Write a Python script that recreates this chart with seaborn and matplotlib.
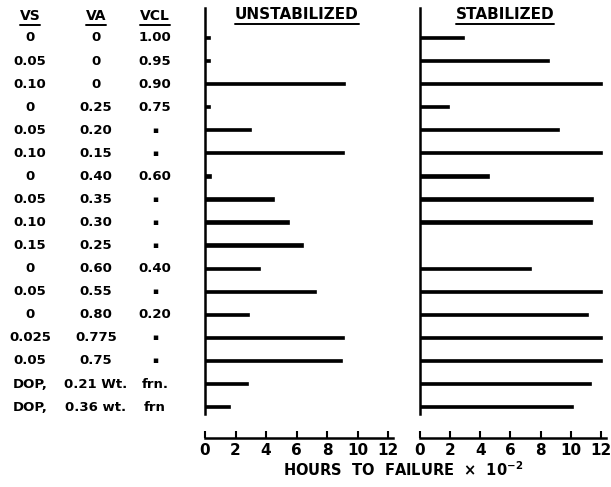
import numpy as np
import pandas as pd
import matplotlib
matplotlib.use("Agg")
import matplotlib.pyplot as plt
from matplotlib.lines import Line2D
from matplotlib.transforms import blended_transform_factory
import seaborn as sns

# ── Data ──────────────────────────────────────────────────────────────────────
D = "\u25aa"  # ditto mark
vs_col  = ["0", "0.05", "0.10", "0", "0.05", "0.10", "0", "0.05", "0.10", "0.15",
           "0", "0.05", "0", "0.025", "0.05", "DOP,", "DOP,"]
va_col  = ["0", "0", "0", "0.25", "0.20", "0.15", "0.40", "0.35", "0.30", "0.25",
           "0.60", "0.55", "0.80", "0.775", "0.75", "0.21 Wt.", "0.36 wt."]
vcl_col = ["1.00", "0.95", "0.90", "0.75", D, D, "0.60", D, D, D,
           "0.40", D, "0.20", D, D, "frn.", "frn"]
unstabilized = [0.3, 0.3, 9.2, 0.3, 3.0, 9.1, 0.4, 4.5, 5.5, 6.4,
                3.6, 7.3, 2.9, 9.1, 9.0, 2.85, 1.65]
stabilized   = [2.95, 8.55, 12.1, 1.9, 9.2, 12.05, 4.6, 11.45, 11.4, 0.0,
                7.35, 12.05, 11.15, 12.05, 12.05, 11.35, 10.15]
x_ticks = [0, 2, 4, 6, 8, 10, 12]

rows = list(range(len(unstabilized)))
df = pd.DataFrame({"row": rows, "unstab": unstabilized, "stab": stabilized})

# ── Style ─────────────────────────────────────────────────────────────────────
sns.set_theme(style="white")
plt.rcParams.update({
    "font.family": ["DejaVu Sans"],
    "font.weight": "bold",
    "text.color": "black",
    "axes.labelcolor": "black",
    "xtick.color": "black",
})

fig = plt.figure(figsize=(6.11, 4.87), dpi=100)
ax1 = fig.add_axes([205 / 611, 73 / 487, 187.6 / 611, 406 / 487])
ax2 = fig.add_axes([420 / 611, 73 / 487, 185.5 / 611, 406 / 487])

for ax, col in [(ax1, "unstab"), (ax2, "stab")]:
    sns.barplot(data=df, x=col, y="row", orient="h", color="black",
                width=0.1, ax=ax, saturation=1,
                edgecolor="black", linewidth=1.2)
    ax.set_xlim(0, 12.3)
    ax.set_ylim(16.3, -1.3)
    ax.set_xlabel("")
    ax.set_ylabel("")
    ax.set_yticks([])
    ax.set_xticks(x_ticks)
    ax.set_xticklabels([str(t) for t in x_ticks], fontsize=9.5, fontweight="bold")
    ax.tick_params(axis="x", direction="in", length=5, width=1.5, pad=4,
                   bottom=True, colors="black")
    sns.despine(ax=ax, offset={"bottom": 17})
    for s in ("left", "bottom"):
        ax.spines[s].set_color("black")
        ax.spines[s].set_linewidth(1.8)


def underline(txt, pad=1.5, lw=1.4):
    fig.canvas.draw()
    bb = txt.get_window_extent()
    inv = fig.transFigure.inverted()
    (x0, y0), (x1, _) = inv.transform([(bb.x0, bb.y0 - pad), (bb.x1, bb.y0)])
    fig.add_artist(Line2D([x0, x1], [y0, y0], transform=fig.transFigure,
                          color="black", lw=lw))


t1 = ax1.text(0.49, 0.983, "UNSTABILIZED", transform=ax1.transAxes,
              ha="center", va="center", fontsize=11, fontweight="bold")
t2 = ax2.text(0.458, 0.983, "STABILIZED", transform=ax2.transAxes,
              ha="center", va="center", fontsize=11, fontweight="bold")

# table on the left, rows aligned with the bars
tr = blended_transform_factory(fig.transFigure, ax1.transData)
col_x = [30 / 611, 96 / 611, 155 / 611]
heads = []
for x, h in zip(col_x, ["VS", "VA", "VCL"]):
    heads.append(fig.text(x, -0.95, h, transform=tr, ha="center", va="center",
                          fontsize=10, fontweight="bold"))
for i in rows:
    for x, c in zip(col_x, [vs_col, va_col, vcl_col]):
        fs = 6.5 if c[i] == D else 9.5
        fig.text(x, i, c[i], transform=tr, ha="center", va="center",
                 fontsize=fs, fontweight="bold")

fig.text(403 / 611, 0.035, r"HOURS  TO  FAILURE  ×  $\mathbf{10^{-2}}$",
         ha="center", va="center", fontsize=10.5, fontweight="bold")

for t in [t1, t2] + heads:
    underline(t)

fig.savefig("out.png", dpi=100)
